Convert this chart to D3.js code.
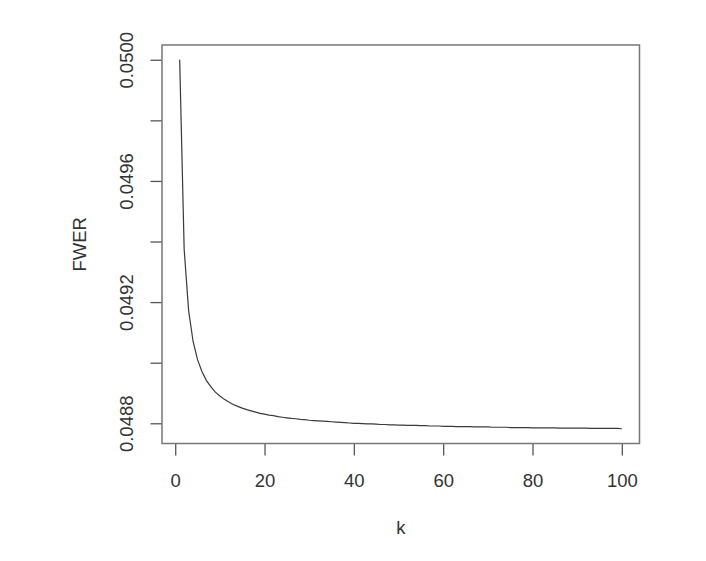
<!DOCTYPE html>
<html>
<head>
<meta charset="utf-8">
<script src="https://cdn.jsdelivr.net/npm/d3@7"></script>
<style>
	body { margin: 0; background: #fff; }
	text { font-family: "Liberation Sans", Arial, Helvetica, sans-serif; }
</style>
</head>
<body>
<div id="chart"></div>
<script>

// values, k = 1..100
var kValues = d3.range(1, 101);
var fwerValues = [
	0.050000, 0.049375, 0.049172, 0.049070, 0.049010, 0.048970, 0.048941, 0.048920, 0.048903, 0.048890,
	0.048879, 0.048870, 0.048862, 0.048856, 0.048850, 0.048845, 0.048841, 0.048837, 0.048833, 0.048830,
	0.048827, 0.048825, 0.048822, 0.048820, 0.048818, 0.048816, 0.048815, 0.048813, 0.048812, 0.048810,
	0.048809, 0.048808, 0.048807, 0.048806, 0.048805, 0.048804, 0.048803, 0.048802, 0.048801, 0.048800,
	0.048800, 0.048799, 0.048798, 0.048798, 0.048797, 0.048796, 0.048796, 0.048795, 0.048795, 0.048794,
	0.048794, 0.048793, 0.048793, 0.048793, 0.048792, 0.048792, 0.048791, 0.048791, 0.048791, 0.048790,
	0.048790, 0.048790, 0.048789, 0.048789, 0.048789, 0.048789, 0.048788, 0.048788, 0.048788, 0.048788,
	0.048787, 0.048787, 0.048787, 0.048787, 0.048786, 0.048786, 0.048786, 0.048786, 0.048786, 0.048785,
	0.048785, 0.048785, 0.048785, 0.048785, 0.048785, 0.048784, 0.048784, 0.048784, 0.048784, 0.048784,
	0.048784, 0.048784, 0.048783, 0.048783, 0.048783, 0.048783, 0.048783, 0.048783, 0.048783, 0.048782
];

// tick labels
var xTicks = [0, 20, 40, 60, 80, 100];
var yTicks = [0.0488, 0.0490, 0.0492, 0.0494, 0.0496, 0.0498, 0.0500];
var yTickLabels = ["0.0488", "0.0492", "0.0496", "0.0500"];

var xLabel = "k";
var yLabel = "FWER";

// set the specs
var width = 706;
var height = 561;
var plotLeft = 162;
var plotRight = 639.5;
var plotTop = 45;
var plotBottom = 443.5;
var textColor = "#333";

var svg = d3.select("#chart")
	.append("svg")
	.attr("width", width)
	.attr("height", height);

svg.append("rect")
	.attr("width", width)
	.attr("height", height)
	.attr("fill", "#fff");

// R style 4% padding round the data range
function pad(ext) {
	var d = (ext[1] - ext[0]) * 0.04;
	return [ext[0] - d, ext[1] + d];
}

var xScale = d3.scaleLinear()
	.domain(pad(d3.extent(kValues)))
	.range([plotLeft, plotRight]);

var yScale = d3.scaleLinear()
	.domain(pad(d3.extent(fwerValues)))
	.range([plotBottom, plotTop]);

// axes
var xAxis = d3.axisBottom(xScale)
	.tickValues(xTicks)
	.tickSize(12)
	.tickPadding(18)
	.tickFormat(d3.format("d"));

var yAxis = d3.axisLeft(yScale)
	.tickValues(yTicks)
	.tickSize(11.5)
	.tickFormat(function(d) {
		var s = d3.format(".4f")(d);
		return yTickLabels.indexOf(s) >= 0 ? s : "";
	});

var gx = svg.append("g")
	.attr("transform", "translate(0," + plotBottom + ")")
	.call(xAxis);

var gy = svg.append("g")
	.attr("transform", "translate(" + plotLeft + ",0)")
	.call(yAxis);

[gx, gy].forEach(function(g) {
	g.select(".domain").remove();
	g.selectAll(".tick line")
		.attr("stroke", "#555")
		.attr("stroke-width", 1.3);
	g.selectAll(".tick text")
		.attr("fill", textColor)
		.style("font-size", "18.5px");
});

// rotate y labels like R does
gy.selectAll(".tick text")
	.attr("transform", "rotate(-90)")
	.attr("x", 0)
	.attr("y", -35)
	.attr("dy", "0.35em")
	.attr("text-anchor", "middle");

// the curve
var line = d3.line()
	.x(function(d, i) { return xScale(kValues[i]); })
	.y(function(d) { return yScale(d); });

svg.append("path")
	.datum(fwerValues)
	.attr("d", line)
	.attr("fill", "none")
	.attr("stroke", "#3a3a3a")
	.attr("stroke-width", 1.2);

// box round the plot
svg.append("rect")
	.attr("x", plotLeft)
	.attr("y", plotTop)
	.attr("width", plotRight - plotLeft)
	.attr("height", plotBottom - plotTop)
	.attr("fill", "none")
	.attr("stroke", "#777")
	.attr("stroke-width", 1.5);

// axis titles
svg.append("text")
	.attr("x", (plotLeft + plotRight) / 2)
	.attr("y", 534)
	.attr("text-anchor", "middle")
	.attr("fill", textColor)
	.style("font-size", "18.5px")
	.text(xLabel);

svg.append("text")
	.attr("transform", "translate(86," + ((plotTop + plotBottom) / 2) + ") rotate(-90)")
	.attr("text-anchor", "middle")
	.attr("fill", textColor)
	.style("font-size", "18.5px")
	.text(yLabel);

</script>
</body>
</html>
